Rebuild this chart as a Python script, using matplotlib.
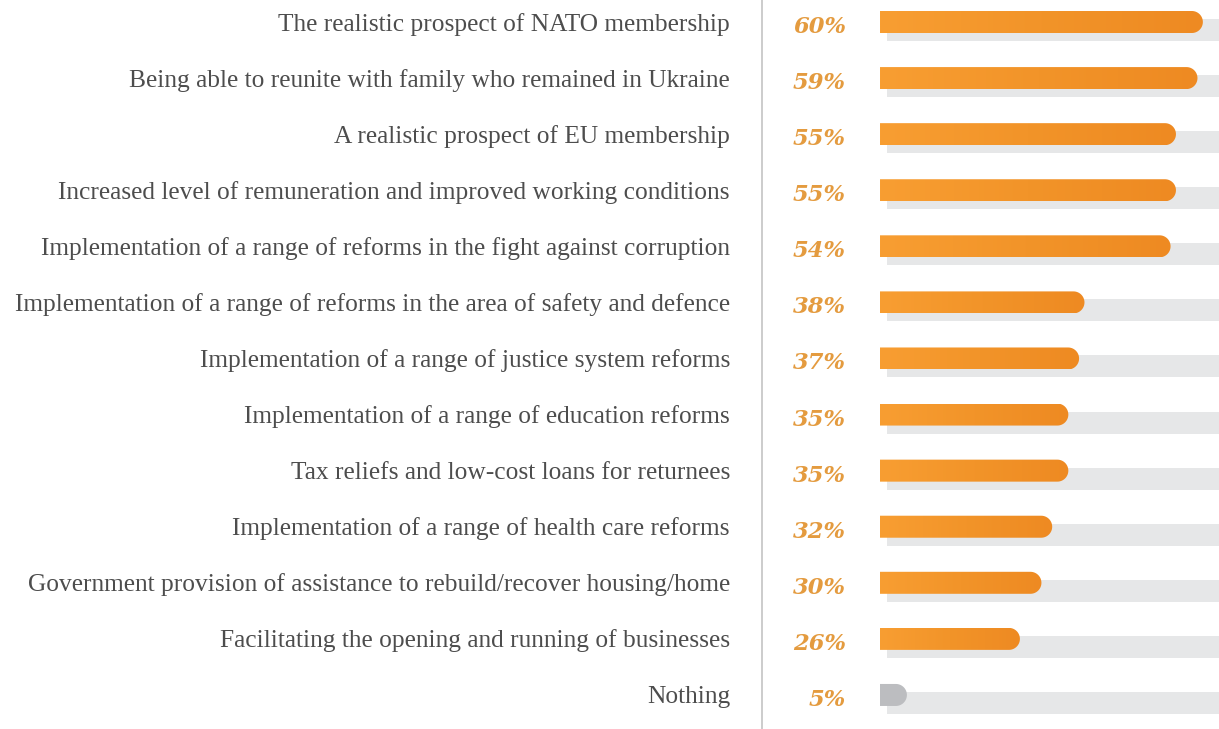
import numpy as np
import matplotlib
matplotlib.use("Agg")
import matplotlib.pyplot as plt
from matplotlib.path import Path
from matplotlib.patches import PathPatch, Rectangle
from matplotlib.colors import LinearSegmentedColormap

# Data
labels = [
    "The realistic prospect of NATO membership",
    "Being able to reunite with family who remained in Ukraine",
    "A realistic prospect of EU membership",
    "Increased level of remuneration and improved working conditions",
    "Implementation of a range of reforms in the fight against corruption",
    "Implementation of a range of reforms in the area of safety and defence",
    "Implementation of a range of justice system reforms",
    "Implementation of a range of education reforms",
    "Tax reliefs and low-cost loans for returnees",
    "Implementation of a range of health care reforms",
    "Government provision of assistance to rebuild/recover housing/home",
    "Facilitating the opening and running of businesses",
    "Nothing",
]
values = [60, 59, 55, 55, 54, 38, 37, 35, 35, 32, 30, 26, 5]

W, H = 1219, 729
fig = plt.figure(figsize=(W / 100, H / 100), dpi=100)

x0 = 880
xmax = 63
ax = fig.add_axes([x0 / W, 0, (W - x0) / W, 1])
pitch = 56.08
first = 22
ax.axis("off")

px_x = (W - x0) / xmax          # pixels per percent
bar_h = 22 / pitch
rx = 11 / px_x
ry = bar_h / 2
dx_shadow = 7 / px_x
dy_shadow = 8 / pitch

orange = LinearSegmentedColormap.from_list("o", ["#F89E32", "#F29429", "#EE8A22"])
grad = np.linspace(0, 1, 256).reshape(1, -1)

def bar_path(y, v):
    # square on the left, round cap on the right
    xs = max(v - rx, 0)
    verts = [(0, y + ry), (xs, y + ry)]
    for a in np.linspace(np.pi / 2, -np.pi / 2, 40):
        verts.append((xs + rx * np.cos(a), y + ry * np.sin(a)))
    verts += [(0, y - ry), (0, y + ry)]
    codes = [Path.MOVETO] + [Path.LINETO] * (len(verts) - 2) + [Path.CLOSEPOLY]
    return Path(verts, codes)

for i, v in enumerate(values):
    # grey track, shifted right and down
    ax.add_patch(Rectangle((dx_shadow, i - ry + dy_shadow), xmax, bar_h,
                           facecolor="#E6E7E8", edgecolor="none", zorder=1))
    p = PathPatch(bar_path(i, v), facecolor="none", edgecolor="none")
    ax.add_patch(p)
    if labels[i] == "Nothing":
        p.set_facecolor("#BCBDC0")
        p.set_zorder(2)
    else:
        im = ax.imshow(grad, cmap=orange, aspect="auto",
                       extent=(0, v, i + ry, i - ry), zorder=2)
        im.set_clip_path(p)

ax.set_xlim(0, xmax)
ax.set_ylim((H - first) / pitch, -first / pitch)

# labels and percentages
ytrans = matplotlib.transforms.blended_transform_factory(fig.transFigure, ax.transData)
for i, (lab, v) in enumerate(zip(labels, values)):
    ax.text(730 / W, i + 8.5 / pitch, lab, transform=ytrans, ha="right", va="baseline",
            fontsize=18.3, family="Liberation Serif", color="#4D4D4D")
    ax.text(846 / W, i + 11 / pitch, f"{v}%", transform=ytrans, ha="right", va="baseline",
            fontsize=16.3, family="DejaVu Serif", fontstyle="italic", fontweight="bold",
            color="#E49B3F")

# divider line
fig.add_artist(plt.Line2D([762 / W, 762 / W], [0, 1], color="#C8C8C8", lw=1.3))

fig.savefig("out.png", dpi=100, facecolor="white")
